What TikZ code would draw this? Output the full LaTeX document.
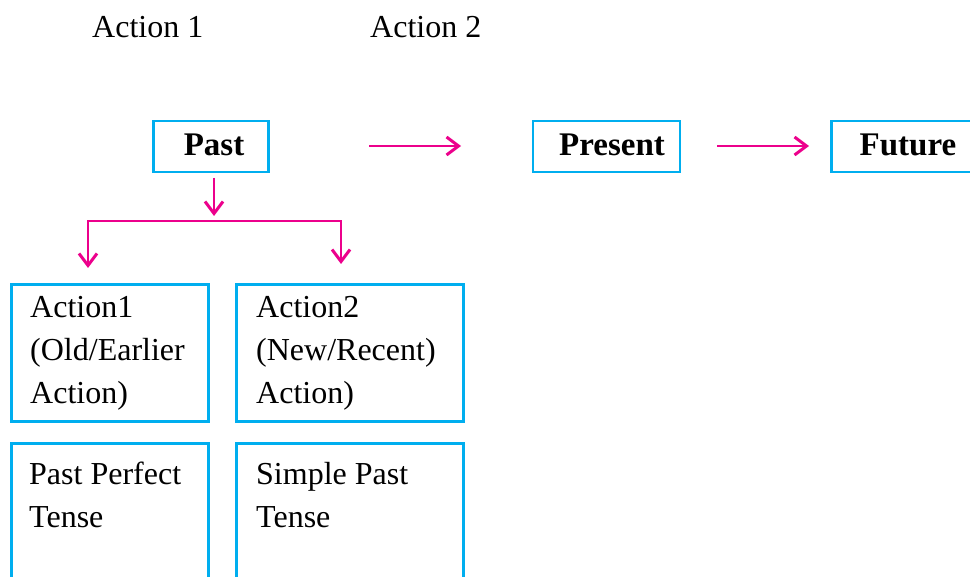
\documentclass[tikz,border=0pt]{standalone}
\usepackage{fontspec}
\setmainfont{Liberation Serif}
\usetikzlibrary{arrows.meta}
\definecolor{boxcyan}{HTML}{00AEEF}
\definecolor{arrmag}{HTML}{EC008C}
\begin{document}
\begin{tikzpicture}[x=1pt,y=-1pt,
  box/.style={draw=boxcyan, line width=2.8pt, rectangle, inner sep=0pt},
  tip/.tip={Straight Barb[length=12pt 0,width=18pt 0,line width=3pt]},
  conn/.style={draw=arrmag, line width=2.8pt, -tip},
  bothconn/.style={draw=arrmag, line width=2.8pt, tip-tip},
  txt/.style={anchor=base west, inner sep=0pt, font=\fontsize{32}{43}\selectfont},
  btxt/.style={anchor=base, inner sep=0pt, font=\fontsize{33}{40}\selectfont\bfseries}]
\clip (0,0) rectangle (970,577);
\fill[white] (0,0) rectangle (970,577);

% header labels
\node[txt] (h1) at (92,38) {Action 1};
\node[txt] (h2) at (370,38) {Action 2};

% timeline boxes
\node[box, minimum width=115pt, minimum height=51pt] (past) at (211,146.5) {};
\node[btxt] (pastT) at (214,156) {Past};
\node[box, minimum width=147pt, minimum height=51pt] (present) at (606.5,146.5) {};
\node[btxt] (presentT) at (612,156) {Present};
\node[box, minimum width=170pt, minimum height=51pt] (future) at (916.5,146.5) {};
\node[btxt] (futureT) at (908,156) {Future};

% action boxes
\node[box, minimum width=197pt, minimum height=137pt] (a1) at (110,353) {};
\node[box, minimum width=227pt, minimum height=137pt] (a2) at (350,353) {};
\node[box, minimum width=197pt, minimum height=177pt] (t1) at (110,532) {};
\node[box, minimum width=227pt, minimum height=177pt] (t2) at (350,532) {};

\node[txt] (a1l1) at (30,318) {Action1};
\node[txt] (a1l2) at (30,361) {(Old/Earlier};
\node[txt] (a1l3) at (30,404) {Action)};
\node[txt] (a2l1) at (256,318) {Action2};
\node[txt] (a2l2) at (256,361) {(New/Recent)};
\node[txt] (a2l3) at (256,404) {Action)};
\node[txt] (t1l1) at (29,484) {Past Perfect};
\node[txt] (t1l2) at (29,527) {Tense};
\node[txt] (t2l1) at (256,484) {Simple Past};
\node[txt] (t2l2) at (256,527) {Tense};

% connector end points
\coordinate (p1s) at (369,146);
\coordinate (p1e) at (461,146);
\coordinate (p2s) at (717,146);
\coordinate (p2e) at (809,146);
\coordinate (pds) at (214,178);
\coordinate (pde) at (214,216);
\coordinate (splitL) at (88,221);
\coordinate (splitR) at (341,221);
\coordinate (tipL) at (88,268);
\coordinate (tipR) at (341,264);

\draw[conn] (p1s) -- (p1e);
\draw[conn] (p2s) -- (p2e);
\draw[conn] (pds) -- (pde);
\draw[bothconn] (tipL) -- (splitL) -- (splitR) -- (tipR);
\end{tikzpicture}
\end{document}
